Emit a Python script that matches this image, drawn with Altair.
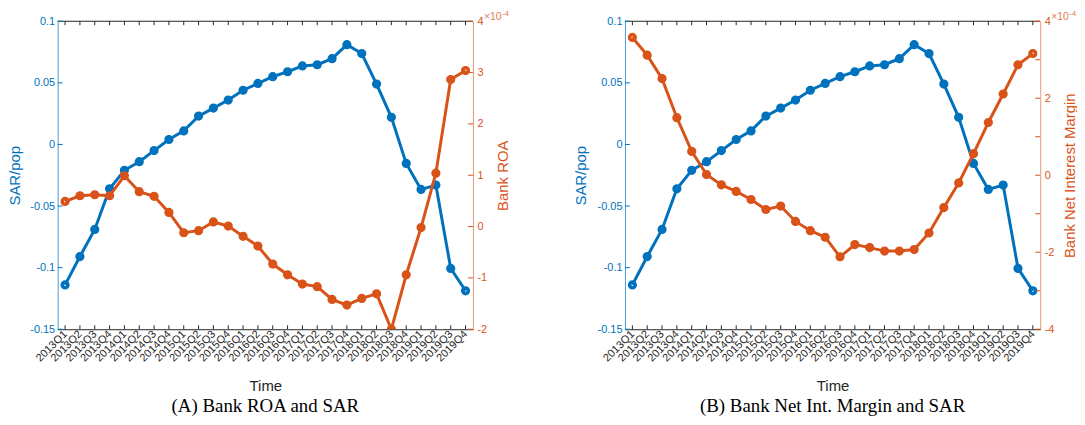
import altair as alt
import pandas as pd

# ---------------- data ----------------
quarters = ["2013Q1", "2013Q2", "2013Q3", "2013Q4",
            "2014Q1", "2014Q2", "2014Q3", "2014Q4",
            "2015Q1", "2015Q2", "2015Q3", "2015Q4",
            "2016Q1", "2016Q2", "2016Q3", "2016Q4",
            "2017Q1", "2017Q2", "2017Q3", "2017Q4",
            "2018Q1", "2018Q2", "2018Q3", "2018Q4",
            "2019Q1", "2019Q2", "2019Q3", "2019Q4"]

sar_pop = [-0.114, -0.091, -0.069, -0.036, -0.021, -0.014, -0.005, 0.004,
           0.011, 0.023, 0.0295, 0.036, 0.044, 0.0495, 0.055, 0.059,
           0.0637, 0.0647, 0.0696, 0.081, 0.0738, 0.049, 0.022, -0.0154,
           -0.0365, -0.033, -0.1006, -0.1188]

# Bank ROA, in units of 1e-4
bank_roa = [0.49, 0.60, 0.62, 0.60, 0.99, 0.68, 0.59, 0.275,
            -0.12, -0.08, 0.09, 0.01, -0.19, -0.38, -0.73, -0.94,
            -1.12, -1.17, -1.42, -1.53, -1.40, -1.31, -2.0, -0.94,
            -0.02, 1.04, 2.865, 3.04]

# Bank net interest margin, in units of 1e-4
bank_nim = [3.58, 3.12, 2.51, 1.495, 0.62, 0.02, -0.25, -0.42,
            -0.63, -0.89, -0.80, -1.20, -1.44, -1.61, -2.12, -1.80,
            -1.88, -1.97, -1.97, -1.93, -1.50, -0.84, -0.20, 0.56,
            1.37, 2.11, 2.87, 3.16]

sar_ticks = [-0.15, -0.1, -0.05, 0, 0.05, 0.1]
roa_ticks = [-2, -1, 0, 1, 2, 3, 4]
nim_ticks = [-4, -3, -2, -1, 0, 1, 2, 3, 4]

# ---------------- style ----------------
BLUE = "#0072BD"
ORANGE = "#D95319"
DARK = "#262626"
FONT = "Liberation Sans"
SERIF = "Liberation Serif"
W, H = 418, 310
TICK = 5
MSIZE = 32
MSTROKE = 3.6


def panel(right_vals, right_domain, right_ticks, right_title, caption,
          left_title_x, right_title_x):
    df = pd.DataFrame({"q": quarters, "sar": sar_pop, "r": right_vals})
    qdf = pd.DataFrame({"q": quarters})
    one = pd.DataFrame({"a": [0]})

    xenc = alt.X(
        "q:N", sort=quarters,
        scale=alt.Scale(type="point", padding=0.5),
        axis=alt.Axis(title="Time", labelAngle=-45, labelAlign="right",
                      labelBaseline="middle", labelPadding=3, ticks=False,
                      domainColor=DARK, labelColor=DARK, titleColor=DARK,
                      labelFont=FONT, titleFont=FONT, labelFontSize=11,
                      titleFontSize=15, titleFontWeight="normal",
                      titleY=50, labelOverlap=False),
    )

    lscale = alt.Scale(domain=[-0.15, 0.1], nice=False, zero=False)
    rscale = alt.Scale(domain=right_domain, nice=False, zero=False)

    base = alt.Chart(df)
    yl = alt.Y("sar:Q", scale=lscale,
               axis=alt.Axis(orient="left", values=sar_ticks, ticks=False,
                             grid=False, title="SAR/pop",
                             labelExpr="toString(datum.value)",
                             labelColor=BLUE, titleColor=BLUE,
                             domainColor=BLUE, domainOpacity=0.7,
                             labelFont=FONT, titleFont=FONT,
                             labelFontSize=11, titleFontSize=15,
                             titleFontWeight="normal", labelPadding=3,
                             titleAngle=270, titleBaseline="top",
                             titleAlign="center", titleX=left_title_x))
    blue_line = base.mark_line(color=BLUE, strokeWidth=3).encode(x=xenc, y=yl)
    blue_pts = base.mark_point(color=BLUE, filled=False, size=MSIZE,
                               strokeWidth=MSTROKE, opacity=1).encode(
        x=xenc, y=yl)
    blue_ticks = alt.Chart(pd.DataFrame({"sar": sar_ticks})).mark_rule(
        color=BLUE, strokeWidth=1).encode(
        y=alt.Y("sar:Q", scale=lscale), x=alt.value(0), x2=alt.value(TICK))
    top_ticks = alt.Chart(qdf).mark_rule(color=DARK, strokeWidth=1).encode(
        x=xenc, y=alt.value(0), y2=alt.value(4))
    bot_ticks = alt.Chart(qdf).mark_rule(color=DARK, strokeWidth=1).encode(
        x=xenc, y=alt.value(H), y2=alt.value(H - 4))
    top_line = alt.Chart(one).mark_rule(color=DARK, strokeWidth=1).encode(
        x=alt.value(0), x2=alt.value(W), y=alt.value(0))
    cap = alt.Chart(one).mark_text(
        text=caption, font=SERIF, fontSize=19, color="black",
        align="center", baseline="alphabetic").encode(
        x=alt.value(W / 2), y=alt.value(H + 83))

    left_layer = alt.layer(top_line, top_ticks, bot_ticks, blue_ticks,
                           blue_line, blue_pts, cap)

    yr = alt.Y("r:Q", scale=rscale,
               axis=alt.Axis(orient="right", values=right_ticks, ticks=False,
                             grid=False, title=right_title,
                             labelExpr="toString(datum.value)",
                             labelColor=ORANGE, titleColor=ORANGE,
                             domainColor=ORANGE, domainOpacity=0.6,
                             labelFont=FONT, titleFont=FONT,
                             labelFontSize=11, titleFontSize=15,
                             titleFontWeight="normal", labelPadding=4,
                             titleAngle=270, titleBaseline="top",
                             titleAlign="center", titleX=right_title_x))
    or_line = base.mark_line(color=ORANGE, strokeWidth=3, clip=True).encode(
        x=xenc, y=yr)
    or_pts = base.mark_point(color=ORANGE, filled=False, size=MSIZE,
                             strokeWidth=MSTROKE, opacity=1,
                             clip=True).encode(x=xenc, y=yr)
    or_ticks = alt.Chart(pd.DataFrame({"r": right_ticks})).mark_rule(
        color=ORANGE, strokeWidth=1).encode(
        y=alt.Y("r:Q", scale=rscale), x=alt.value(W - TICK), x2=alt.value(W))
    exp1 = alt.Chart(one).mark_text(
        text="\u00d710", font=FONT, fontSize=10.5, color=ORANGE, opacity=0.75,
        align="left", baseline="alphabetic").encode(
        x=alt.value(W + 11), y=alt.value(-1.5))
    exp2 = alt.Chart(one).mark_text(
        text="-4", font=FONT, fontSize=8, color=ORANGE, opacity=0.75,
        align="left", baseline="alphabetic").encode(
        x=alt.value(W + 29), y=alt.value(-5.5))

    right_layer = alt.layer(or_ticks, or_line, or_pts, exp1, exp2)

    return alt.layer(left_layer, right_layer).resolve_scale(
        y="independent").properties(width=W, height=H)


pa = panel(bank_roa, [-2, 4], roa_ticks, "Bank ROA",
           "(A) Bank ROA and SAR", -50, 23)
pb = panel(bank_nim, [-4, 4], nim_ticks, "Bank Net Interest Margin",
           "(B) Bank Net Int. Margin and SAR", -52, 22)

chart = alt.hconcat(pa, pb, spacing=153, bounds="flush").properties(
    padding=0).configure_view(stroke=None)

chart.save("out.html", embed_options={"renderer": "svg", "actions": False})
